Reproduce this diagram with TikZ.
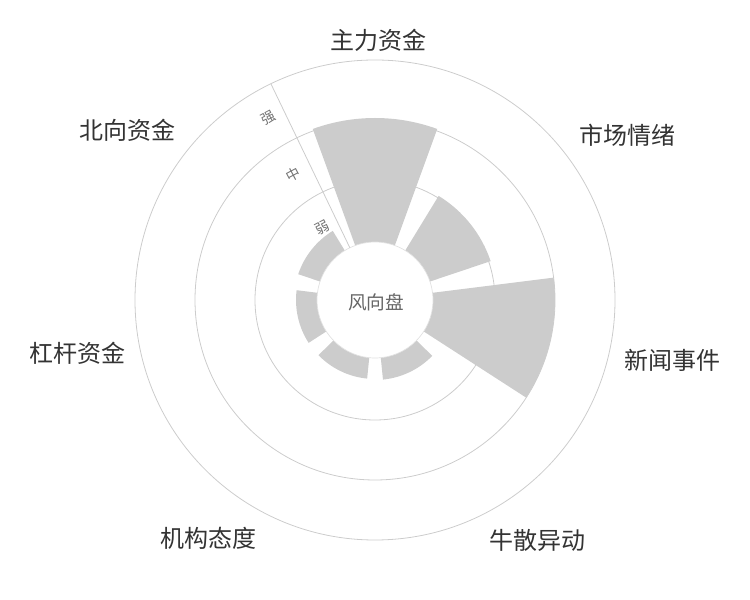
\documentclass[tikz,border=0pt]{standalone}
\usepackage{fontspec}
\newfontfamily\cjk{Noto Sans CJK SC}
\begin{document}
\begin{tikzpicture}[x=0.75pt,y=0.75pt,
  grid/.style={draw=black!20,line width=0.6pt},
  bar/.style={fill=black!20,draw=none},
  cat/.style={font=\cjk\fontsize{18}{20}\selectfont,text=black!80},
  ax/.style={font=\cjk\fontsize{10.5}{12}\selectfont,text=black!55,rotate=28}]
\useasboundingbox (0,0) rectangle (750,600);
\coordinate (c) at (375,300);
\draw[grid] (c) circle (240);
\draw[grid] (c) circle (180);
\draw[grid] (c) circle (120);
% bars: center angle, outer radius
\foreach \a/\r in {90/182, 38.57/122, -12.86/180, -64.29/80, -115.71/79, -167.14/79, 141.43/81}{
  \fill[bar] ([shift={(\a-20:58)}]c) arc[start angle=\a-20,end angle=\a+20,radius=58]
     -- ([shift={(\a+20:\r)}]c) arc[start angle=\a+20,end angle=\a-20,radius=\r] -- cycle;
}
\fill[white] (c) circle (58);
\draw[black!12,line width=0.5pt] (c) circle (58);
\draw[grid] ([shift={(115.71:58)}]c) -- ([shift={(115.71:240)}]c) coordinate (axend);
\node[ax] (s1) at ([shift={(120.5:211)}]c) {强};
\node[ax] (s2) at ([shift={(123:150)}]c) {中};
\node[ax] (s3) at ([shift={(126:89)}]c) {弱};
\node[font=\cjk\fontsize{14}{16}\selectfont,text=black!60] (ctr) at (376,298) {风向盘};
\node[cat] (l1) at (378,560) {主力资金};
\node[cat] (l2) at (627,465) {市场情绪};
\node[cat] (l3) at (672,240) {新闻事件};
\node[cat] (l4) at (537,60) {牛散异动};
\node[cat] (l5) at (208,62) {机构态度};
\node[cat] (l6) at (77,247) {杠杆资金};
\node[cat] (l7) at (127,470) {北向资金};
\end{tikzpicture}
\end{document}
